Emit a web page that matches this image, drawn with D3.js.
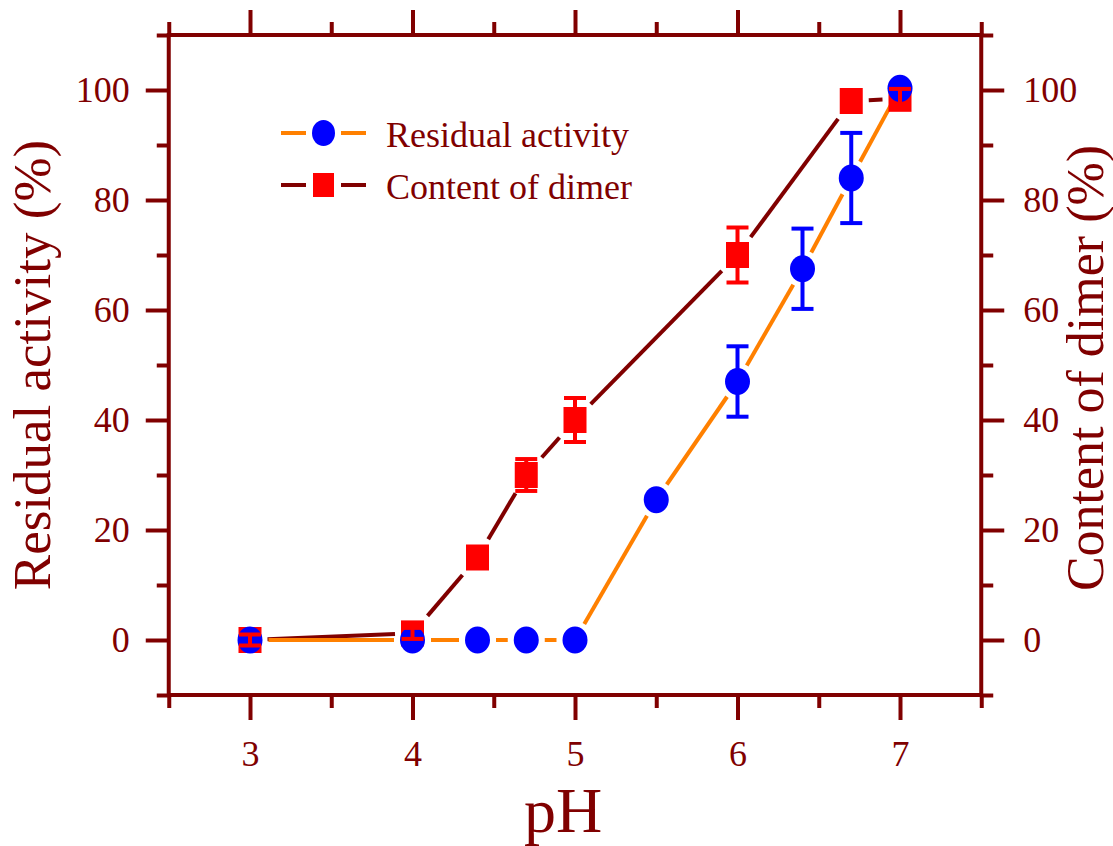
<!DOCTYPE html>
<html>
<head>
<meta charset="utf-8">
<script src="https://cdn.jsdelivr.net/npm/d3@7"></script>
<style>
  body { margin: 0; background: #fff; }
  text { font-family: "Liberation Serif", "Times New Roman", serif; fill: #800000; }
</style>
</head>
<body>
<div class="canva"></div>
<script>
// datos
const phActivity = [3, 4, 4.4, 4.7, 5, 5.5, 6, 6.4, 6.7, 7];
const residualActivity = [0, 0, 0, 0, 0, 25.5, 47, 67.5, 84, 100.3];
const activityError = [0, 0, 0, 0, 0, 0, 6.4, 7.3, 8.2, 0];

const phDimer = [3, 4, 4.4, 4.7, 5, 6, 6.7, 7];
const dimerContent = [0, 1.2, 15, 30, 40, 70, 98, 98.4];
const dimerError = [1, 1, 0, 2.9, 4, 5, 0, 1.8];

const xTicks = [3, 4, 5, 6, 7];
const xMinor = [2.5, 3.5, 4.5, 5.5, 6.5, 7.5];
const yTicks = [0, 20, 40, 60, 80, 100];
const yMinor = [-10, 10, 30, 50, 70, 90, 110];

const seriesNames = ["Residual activity", "Content of dimer"];

document.addEventListener("DOMContentLoaded", function() {
  const dark = "#800000";
  const orange = "#FF8000";

  const svg = d3.select(".canva")
    .append("svg")
    .attr("width", 1113)
    .attr("height", 846);

  const x = d3.scaleLinear().domain([2.5, 7.5]).range([168.75, 981.25]);
  const y = d3.scaleLinear().domain([-10, 110]).range([695, 35]);

  // ejes: mayores con etiquetas, menores sin ellas
  function drawAxis(axisFn, scale, major, minor, size, pad, pos, labels) {
    const gMaj = svg.append("g").attr("transform", pos).call(
      axisFn(scale).tickValues(major).tickSize(size).tickPadding(pad)
        .tickFormat(labels ? d3.format("d") : ""));
    const gMin = svg.append("g").attr("transform", pos).call(
      axisFn(scale).tickValues(minor).tickSize(Math.round(size / 2)).tickFormat(""));
    [gMaj, gMin].forEach(g => {
      g.select(".domain").remove();
      g.selectAll("line").attr("stroke", dark).attr("stroke-width", 4);
      g.selectAll("text").attr("font-size", 36).attr("fill", dark)
        .style("font-family", "Liberation Serif, serif");
    });
  }

  drawAxis(d3.axisBottom, x, xTicks, xMinor, 25, 20, "translate(0,695)", true);
  drawAxis(d3.axisTop, x, xTicks, xMinor, 25, 0, "translate(0,35)", false);
  drawAxis(d3.axisLeft, y, yTicks, yMinor, 23, 16, "translate(168.75,0)", true);
  drawAxis(d3.axisRight, y, yTicks, yMinor, 23, 19, "translate(981.25,0)", true);

  // marco
  svg.append("rect")
    .attr("x", x(2.5)).attr("y", y(110))
    .attr("width", x(7.5) - x(2.5)).attr("height", y(-10) - y(110))
    .attr("fill", "none").attr("stroke", dark).attr("stroke-width", 4);

  // titulos
  svg.append("text")
    .attr("transform", "translate(50,365) rotate(-90)")
    .attr("text-anchor", "middle").attr("font-size", 53)
    .text("Residual activity (%)");
  svg.append("text")
    .attr("transform", "translate(1103,368) rotate(-90)")
    .attr("text-anchor", "middle").attr("font-size", 52)
    .text("Content of dimer (%)");
  svg.append("text")
    .attr("x", 563).attr("y", 832)
    .attr("text-anchor", "middle").attr("font-size", 64)
    .text("pH");

  // tamaño de marcadores
  const cR = 12.5, cRy = 13.5;
  const sW = 23, sH = 26;
  const gap = 6;

  function extentCircle(ux, uy) { return cR; }
  function extentSquare(ux, uy) {
    return Math.min(sW / 2 / Math.max(Math.abs(ux), 1e-6), sH / 2 / Math.max(Math.abs(uy), 1e-6));
  }

  // lineas con huecos alrededor de los marcadores
  function gappedLine(xs, ys, color, extent) {
    const pts = xs.map((v, i) => [x(v), y(ys[i])]);
    const segs = [];
    for (let i = 0; i < pts.length - 1; i++) {
      const [x1, y1] = pts[i], [x2, y2] = pts[i + 1];
      const d = Math.hypot(x2 - x1, y2 - y1);
      const ux = (x2 - x1) / d, uy = (y2 - y1) / d;
      const g = extent(ux, uy) + gap;
      if (d > 2 * g) {
        segs.push([x1 + ux * g, y1 + uy * g, x2 - ux * g, y2 - uy * g]);
      }
    }
    svg.append("g").selectAll("line").data(segs).enter().append("line")
      .attr("x1", d => d[0]).attr("y1", d => d[1])
      .attr("x2", d => d[2]).attr("y2", d => d[3])
      .attr("stroke", color).attr("stroke-width", 4);
  }

  gappedLine(phDimer, dimerContent, dark, extentSquare);
  gappedLine(phActivity, residualActivity, orange, extentCircle);

  // marcadores
  svg.append("g").selectAll("rect").data(phDimer).enter().append("rect")
    .attr("x", d => x(d) - sW / 2)
    .attr("y", (d, i) => y(dimerContent[i]) - sH / 2)
    .attr("width", sW).attr("height", sH)
    .attr("fill", "#FF0000");

  svg.append("g").selectAll("ellipse").data(phActivity).enter().append("ellipse")
    .attr("cx", d => x(d))
    .attr("cy", (d, i) => y(residualActivity[i]))
    .attr("rx", cR).attr("ry", cRy)
    .attr("fill", "#0000FF");

  // barras de error
  function errorBars(xs, ys, es, color) {
    const data = xs.map((v, i) => ({ x: v, y: ys[i], e: es[i] })).filter(d => d.e > 0);
    const g = svg.append("g").attr("stroke", color).attr("stroke-width", 4);
    data.forEach(d => {
      const cx = x(d.x), top = y(d.y + d.e), bot = y(d.y - d.e);
      g.append("line").attr("x1", cx).attr("x2", cx).attr("y1", top).attr("y2", bot);
      g.append("line").attr("x1", cx - 11).attr("x2", cx + 11).attr("y1", top).attr("y2", top);
      g.append("line").attr("x1", cx - 11).attr("x2", cx + 11).attr("y1", bot).attr("y2", bot);
    });
  }

  errorBars(phActivity, residualActivity, activityError, "#0000FF");
  errorBars(phDimer, dimerContent, dimerError, "#FF0000");

  // leyenda
  const legend = svg.append("g");
  const rows = [
    { name: seriesNames[0], y: 133, line: orange, shape: "circle" },
    { name: seriesNames[1], y: 185, line: dark, shape: "square" }
  ];
  rows.forEach(r => {
    legend.append("line").attr("x1", 281).attr("x2", 306).attr("y1", r.y).attr("y2", r.y)
      .attr("stroke", r.line).attr("stroke-width", 4);
    legend.append("line").attr("x1", 341).attr("x2", 366).attr("y1", r.y).attr("y2", r.y)
      .attr("stroke", r.line).attr("stroke-width", 4);
    if (r.shape === "circle") {
      legend.append("ellipse").attr("cx", 323.5).attr("cy", r.y).attr("rx", 11.5).attr("ry", 13)
        .attr("fill", "#0000FF");
    } else {
      legend.append("rect").attr("x", 313).attr("y", r.y - 12).attr("width", 21).attr("height", 24)
        .attr("fill", "#FF0000");
    }
    legend.append("text").attr("x", 386).attr("y", r.y + 14).attr("font-size", 36).text(r.name);
  });
});
</script>
</body>
</html>
